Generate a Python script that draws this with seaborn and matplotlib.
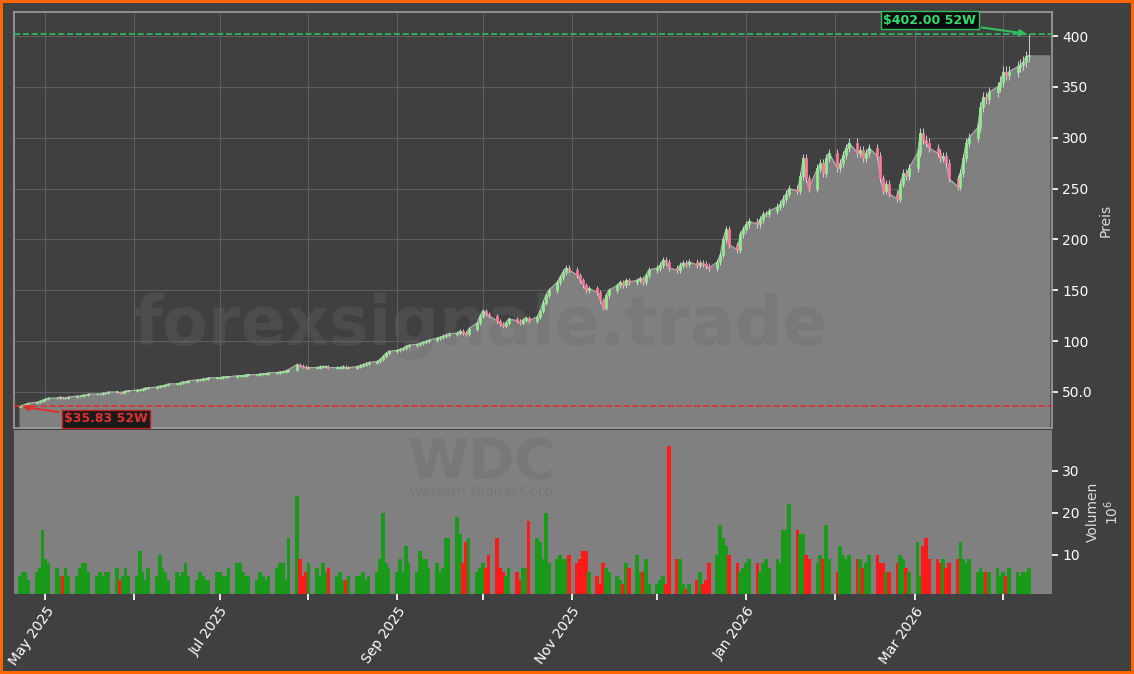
import pandas as pd
import matplotlib
matplotlib.use("Agg")
import matplotlib.pyplot as plt
import matplotlib.dates as mdates
from matplotlib.ticker import FuncFormatter
import seaborn as sns

# daily closes (USD), month by month
closes_apr25 = [35.8, 37, 38, 39, 40, 41, 42]
closes_may25 = [43, 44, 44, 45, 44, 44, 45, 46, 46, 47, 47, 48, 48, 48, 49, 49, 50, 50, 49, 50, 51]
closes_jun25 = [51, 52, 52, 53, 54, 54, 55, 56, 56, 57, 58, 58, 59, 60, 60, 61, 62, 62, 63, 63, 64]
closes_jul25 = [64, 64, 65, 65, 65, 66, 66, 66, 67, 67, 67, 68, 68, 68, 69, 69, 70, 70, 71, 72, 77]
closes_aug25 = [76, 75, 74, 74, 74, 75, 75, 75, 74, 74, 74, 75, 74, 74, 75, 76, 77, 78, 79, 80, 82]
closes_sep25 = [85, 88, 90, 91, 92, 93, 95, 96, 97, 98, 99, 100, 101, 103, 104, 105, 106, 107, 108, 110, 108]
closes_oct25 = [107, 112, 118, 125, 130, 127, 125, 120, 117, 115, 118, 122, 120, 118, 121, 123, 120, 124, 130, 138, 145]
closes_nov25 = [150, 158, 163, 168, 172, 170, 165, 160, 155, 150, 152, 148, 140, 133, 145, 150, 155, 158, 155, 160, 158]
closes_dec25 = [160, 162, 158, 165, 170, 172, 175, 180, 178, 172, 170, 175, 177, 176, 178, 175, 177, 176, 174, 172, 178]
closes_jan26 = [185, 200, 210, 195, 190, 205, 210, 215, 218, 215, 220, 225, 225, 228, 232, 235, 240, 245, 250, 248, 262]
closes_feb26 = [280, 260, 250, 270, 275, 265, 280, 285, 270, 275, 283, 290, 295, 285, 288, 280, 285, 290, 282, 260, 248]
closes_mar26 = [255, 245, 240, 255, 265, 262, 270, 285, 305, 298, 295, 290, 285, 280, 282, 275, 260, 252, 265, 280, 295]
closes_apr26 = [300, 310, 330, 340, 338, 345, 350, 355, 365, 362, 365, 370, 372, 375, 380, 381]

# daily volume (millions)
vol_apr25 = [5, 6, 6, 4, 6, 7, 16]
vol_may25 = [9, 8, 7, 5, 5, 7, 5, 5, 7, 8, 8, 6, 5, 6, 5, 6, 6, 7, 4, 5, 7]
vol_jun25 = [5, 5, 11, 6, 4, 7, 5, 10, 7, 6, 4, 6, 5, 6, 8, 5, 4, 6, 5, 4, 4]
vol_jul25 = [6, 6, 5, 5, 7, 8, 8, 6, 5, 5, 4, 6, 5, 4, 5, 7, 8, 8, 4, 14, 24]
vol_aug25 = [9, 5, 6, 8, 7, 5, 8, 6, 7, 5, 6, 4, 4, 5, 5, 5, 6, 4, 5, 6, 9]
vol_sep25 = [20, 8, 7, 6, 9, 6, 12, 8, 6, 11, 9, 9, 7, 8, 6, 7, 14, 14, 19, 15, 8]
vol_oct25 = [13, 14, 6, 7, 8, 7, 10, 14, 7, 6, 5, 7, 6, 4, 7, 7, 18, 14, 13, 9, 20]
vol_nov25 = [8, 9, 10, 9, 9, 10, 8, 9, 11, 11, 6, 5, 3, 8, 7, 6, 5, 4, 3, 8, 7]
vol_dec25 = [10, 6, 6, 9, 3, 3, 4, 5, 3, 36, 9, 9, 3, 2, 3, 4, 6, 3, 4, 8, 10]
vol_jan26 = [17, 14, 12, 10, 8, 6, 7, 8, 9, 8, 6, 8, 9, 7, 9, 8, 16, 16, 22, 16, 15]
vol_feb26 = [15, 10, 9, 8, 10, 9, 17, 9, 6, 12, 10, 9, 10, 9, 9, 7, 8, 10, 10, 8, 8]
vol_mar26 = [6, 6, 8, 10, 9, 7, 6, 13, 5, 12, 14, 9, 9, 8, 9, 7, 8, 9, 13, 9, 8]
vol_apr26 = [9, 6, 7, 6, 6, 6, 7, 5, 6, 5, 7, 6, 5, 6, 6, 7]

low_52w = 35.83
high_52w = 402.00

closes = (closes_apr25 + closes_may25 + closes_jun25 + closes_jul25 + closes_aug25 + closes_sep25
          + closes_oct25 + closes_nov25 + closes_dec25 + closes_jan26 + closes_feb26 + closes_mar26 + closes_apr26)
volumes = (vol_apr25 + vol_may25 + vol_jun25 + vol_jul25 + vol_aug25 + vol_sep25 + vol_oct25
           + vol_nov25 + vol_dec25 + vol_jan26 + vol_feb26 + vol_mar26 + vol_apr26)

dates = pd.bdate_range("2025-04-22", periods=len(closes))
df = pd.DataFrame({"date": dates, "close": closes, "volume": volumes})
df["open"] = df["close"].shift(1).fillna(df["close"] * 0.99)
df["high"] = df[["open", "close"]].max(axis=1) * 1.015
df["low"] = df[["open", "close"]].min(axis=1) * 0.985
df.loc[df.index[-1], "high"] = high_52w
df.loc[df.index[0], "low"] = low_52w
df["up"] = df["close"] >= df["open"]

sns.set_theme(style="dark")
bg = "#404040"
fig = plt.figure(figsize=(11.34, 6.74), dpi=100, facecolor=bg,
                 edgecolor="#ff6600", linewidth=3)
ax = fig.add_axes([0.0123, 0.365, 0.9153, 0.617], facecolor=bg)
axv = fig.add_axes([0.0123, 0.1187, 0.9153, 0.2433], facecolor="#808080", sharex=ax)

# area + close line
end_date = df["date"].iloc[-1] + pd.Timedelta(days=7)
ax.fill_between(list(df["date"]) + [end_date], list(df["close"]) + [df["close"].iloc[-1]],
                0, color="#808080", zorder=1)
sns.lineplot(data=df, x="date", y="close", ax=ax, color="#b0b0b0", lw=0.8, zorder=2)

# candles
for _, r in df.iterrows():
    col = "#90ee90" if r["up"] else "#ff7a9a"
    ax.vlines(r["date"], r["low"], r["high"], color="#e0e0e0", lw=0.6, zorder=3)
    ax.bar(r["date"], max(abs(r["close"] - r["open"]), 0.5), bottom=min(r["open"], r["close"]),
           width=0.7, color=col, edgecolor=col, lw=0.5, zorder=4)

ax.axhline(high_52w, color="#2fbf5f", ls="--", lw=1.2, zorder=5)
ax.axhline(low_52w, color="#e03030", ls="--", lw=1.2, zorder=5)
ax.annotate(f"${high_52w:.2f} 52W", xy=(df["date"].iloc[-1], high_52w),
            xytext=(-105, 10), textcoords="offset points", color="#2fdf6f", fontsize=9,
            fontweight="bold", va="center",
            bbox=dict(boxstyle="square,pad=0.2", fc="#0a0a0a", ec="#2fbf5f"),
            arrowprops=dict(arrowstyle="-|>", color="#2fbf5f", lw=1.5))
ax.annotate(f"${low_52w:.2f} 52W", xy=(df["date"].iloc[0], low_52w),
            xytext=(32, -9), textcoords="offset points", color="#e03030", fontsize=9,
            fontweight="bold", va="center",
            bbox=dict(boxstyle="square,pad=0.2", fc="#1a1a1a", ec="#c02020"),
            arrowprops=dict(arrowstyle="-|>", color="#e03030", lw=1.5))

ax.text(0.45, 0.245, "forexsignale.trade", transform=ax.transAxes, ha="center", va="center",
        fontsize=48, fontweight="bold", color="#6a6a6a", alpha=0.3, zorder=1.5)
axv.text(0.45, 0.8, "WDC", transform=axv.transAxes, ha="center", va="center",
         fontsize=40, fontweight="bold", color="#787878", zorder=0.5)
axv.text(0.45, 0.62, "Western Digital Corp", transform=axv.transAxes, ha="center", va="center",
         fontsize=10, color="#787878", zorder=0.5)

ax.set_ylim(14.6, 423.6)
ax.set_xlim(df["date"].iloc[0] - pd.Timedelta(days=2), end_date + pd.Timedelta(days=1))
ax.yaxis.tick_right()
ax.yaxis.set_label_position("right")
ax.set_yticks([50, 100, 150, 200, 250, 300, 350, 400])
ax.yaxis.set_major_formatter(FuncFormatter(lambda v, p: "50.0" if v == 50 else f"{v:.0f}"))
ax.set_ylabel("Preis", color="#dddddd", fontsize=10)
ax.set_xlabel("")
ax.tick_params(axis="y", colors="white", labelsize=10, length=4, right=True)
ax.tick_params(axis="x", labelbottom=False, length=0)
ax.grid(True, color="#5e5e5e", lw=0.8)
for s in ax.spines.values():
    s.set_color("#9a9a9a")

# volume
vcolors = ["#1a9a1a" if u else "#ff1a1a" for u in df["up"]]
axv.bar(df["date"], df["volume"], width=1.3, color=vcolors, linewidth=0, zorder=2)
axv.set_ylim(0.7, 39.7)
axv.yaxis.tick_right()
axv.yaxis.set_label_position("right")
axv.set_yticks([10, 20, 30])
axv.set_ylabel("Volumen\n$10^6$", color="#dddddd", fontsize=10)
axv.tick_params(axis="y", colors="white", labelsize=10, length=4, right=True)
axv.xaxis.set_major_locator(mdates.MonthLocator())
axv.xaxis.set_major_formatter(FuncFormatter(
    lambda v, p: mdates.num2date(v).strftime("%b %Y") if mdates.num2date(v).month % 2 == 1 else ""))
axv.tick_params(axis="x", colors="white", labelsize=10, length=4, bottom=True, rotation=55)
for lbl in axv.get_xticklabels():
    lbl.set_ha("right")
    lbl.set_rotation_mode("anchor")
axv.grid(False)
for s in axv.spines.values():
    s.set_visible(False)

fig.savefig("out.png", dpi=100, facecolor=bg, edgecolor="#ff6600")
